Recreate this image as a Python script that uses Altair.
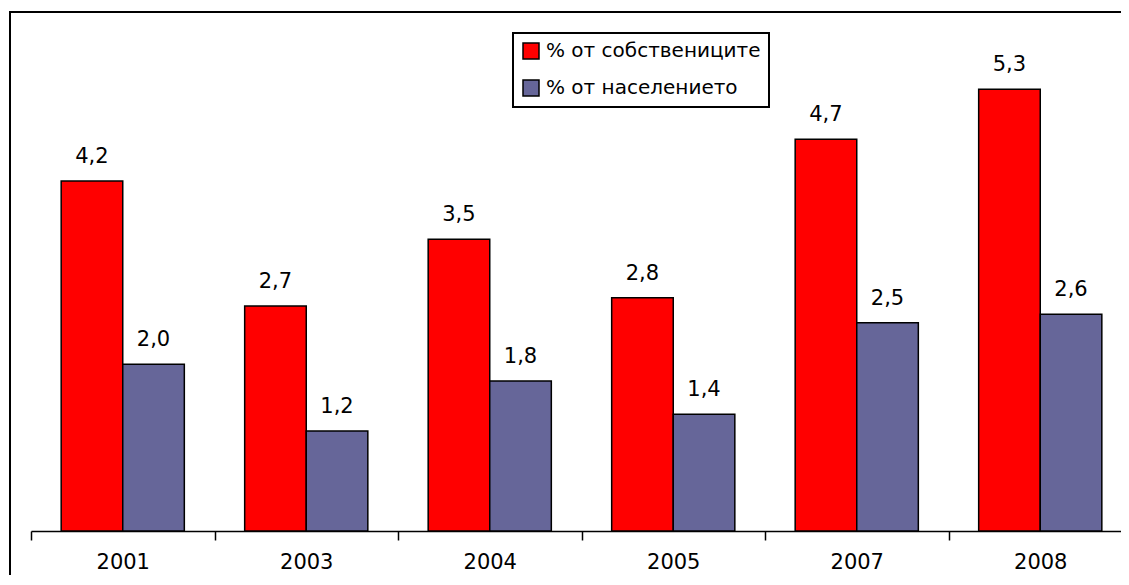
import altair as alt
import pandas as pd

years = ["2001", "2003", "2004", "2005", "2007", "2008"]
owners = [4.2, 2.7, 3.5, 2.8, 4.7, 5.3]
population = [2.0, 1.2, 1.8, 1.4, 2.5, 2.6]
series = ["% от собствениците", "% от населението"]
colors = ["#FF0000", "#666699"]

rows = []
for y, a, b in zip(years, owners, population):
    rows.append({"year": y, "series": series[0], "value": a})
    rows.append({"year": y, "series": series[1], "value": b})
df = pd.DataFrame(rows)
df["label"] = df["value"].map(lambda v: f"{v:.1f}".replace(".", ","))

FONT = "DejaVu Sans"

x = alt.X("year:N", sort=years, title=None,
          scale=alt.Scale(range=[0, 1101], paddingInner=0, paddingOuter=0),
          axis=alt.Axis(labelAngle=0, tickBand="extent", domainColor="black",
                        domainWidth=1.5, tickColor="black", tickWidth=1.5,
                        tickSize=9, labelFontSize=21, labelColor="black",
                        labelFont=FONT, labelPadding=11, grid=False))
xo = alt.XOffset("series:N", sort=series,
                 scale=alt.Scale(paddingOuter=0.49, paddingInner=0))
y = alt.Y("value:Q", scale=alt.Scale(domain=[0, 6]), axis=None)

base = alt.Chart(df)

bars = base.mark_bar(stroke="black", strokeWidth=1.5).encode(
    x=x, xOffset=xo, y=y,
    color=alt.Color("series:N", sort=series,
                    scale=alt.Scale(domain=series, range=colors),
                    legend=alt.Legend(title=None, orient="none", legendX=482, legendY=2,
                                      padding=8, strokeColor="black",
                                      fillColor="white", symbolType="square",
                                      symbolSize=256, symbolStrokeColor="black",
                                      symbolStrokeWidth=1.5, labelFontSize=20,
                                      labelFont=FONT, labelColor="black",
                                      labelLimit=500,
                                      rowPadding=15, labelOffset=5, symbolOpacity=1)),
)

labels = base.mark_text(baseline="alphabetic", dy=-18, fontSize=21, font=FONT,
                        color="black").encode(
    x=x, xOffset=xo, y=y, text="label:N"
)

one = pd.DataFrame({"a": [0]})
frame_top = alt.Chart(one).mark_rule(color="black", strokeWidth=2).encode(
    x=alt.value(-21), x2=alt.value(1400), y=alt.value(-19)
)
frame_left = alt.Chart(one).mark_rule(color="black", strokeWidth=2).encode(
    x=alt.value(-21), y=alt.value(-20), y2=alt.value(900)
)

chart = alt.layer(bars, labels, frame_top, frame_left).properties(
    width=1090, height=500,
    autosize=alt.AutoSizeParams(type="none"),
    padding={"left": 23, "top": 23, "right": 0, "bottom": 44},
    view=alt.ViewBackground(stroke=None, strokeOpacity=0, fill=None),
).configure_view(strokeOpacity=0, strokeWidth=0, fillOpacity=0).configure(
    background="white").configure_legend(strokeWidth=2)

chart.save("out.html", embed_options={"renderer": "svg", "actions": False})
